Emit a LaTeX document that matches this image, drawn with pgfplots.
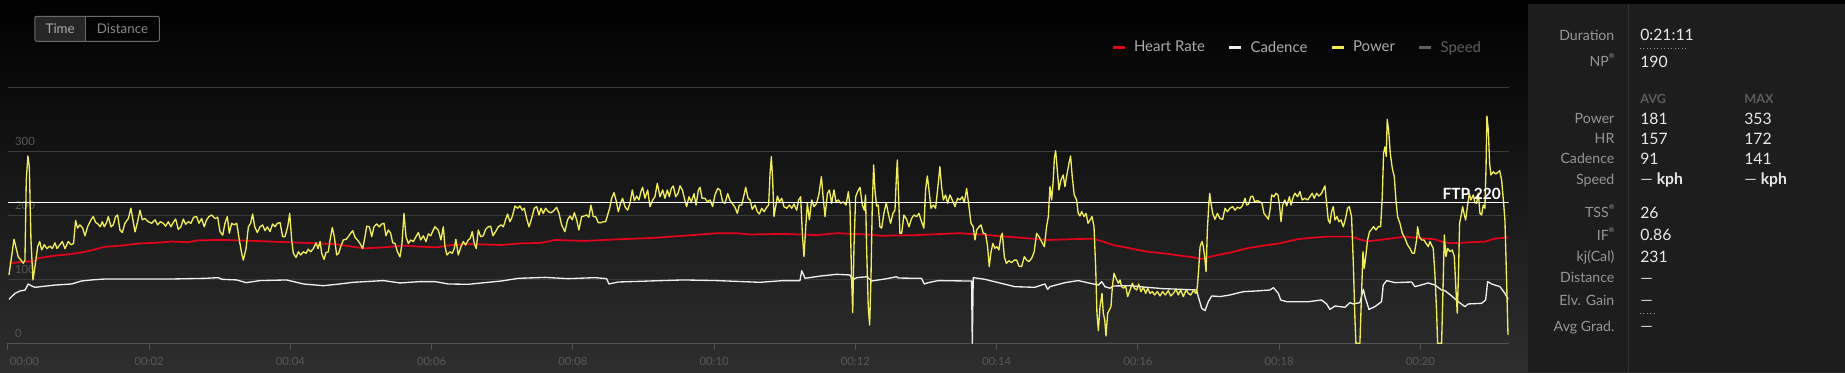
\documentclass[border=0pt]{standalone}
\usepackage{fontspec}
\setmainfont{Lato}
\usepackage{pgfplots}
\pgfplotsset{compat=1.18}
\definecolor{hr}{RGB}{227,0,27}
\definecolor{pw}{RGB}{240,236,90}
\definecolor{cad}{RGB}{238,238,238}
\definecolor{spd}{RGB}{95,95,95}
\definecolor{gridc}{RGB}{58,58,58}
\definecolor{axisc}{RGB}{82,82,82}
\definecolor{ticklab}{RGB}{88,88,88}
\definecolor{panel}{RGB}{29,29,29}
\definecolor{panelline}{RGB}{50,50,50}
\definecolor{lab}{RGB}{150,150,150}
\definecolor{val}{RGB}{232,232,232}
\definecolor{hdr}{RGB}{92,92,92}
\definecolor{legtext}{RGB}{172,172,172}
\definecolor{bgbot}{RGB}{46,46,46}
\definecolor{btnfill}{RGB}{38,38,38}
\definecolor{btnline}{RGB}{105,105,105}
\definecolor{btntxta}{RGB}{170,170,170}
\definecolor{btntxtb}{RGB}{135,135,135}
\newcommand{\fs}[1]{\fontsize{#1}{#1}\selectfont}
\newcommand{\reg}{\raisebox{0.55em}{\fs{5pt}®}}
\begin{document}
\begin{tikzpicture}
\begin{scope}[x=0.75pt,y=-0.75pt]
\useasboundingbox (0,0) rectangle (1845,372);
\shade[top color=black, bottom color=bgbot] (0,0) rectangle (1845,372);
\fill[panel] (1528,4) rectangle (1845,372);
\draw[panelline, line width=0.75pt] (1628.6,4) -- (1628.6,372);
% buttons
\fill[btnfill] (35,16.5) rectangle (85.4,41);
\draw[rounded corners=1.5pt, draw=btnline, line width=0.75pt] (34.8,16.3) rectangle (159.4,41.3);
\draw[draw=btnline, line width=0.75pt] (85.4,16.3) -- (85.4,41.3);
\node[anchor=base, text=btntxta, font=\fs{10pt}, inner sep=0pt] at (60.2,33.8) {Time};
\node[anchor=base, text=btntxtb, font=\fs{10pt}, inner sep=0pt] at (122.5,33.8) {Distance};
% panel labels
\begin{scope}[every node/.style={anchor=base east, inner sep=0pt, text=lab, font=\fs{10.6pt}}]
\node at (1614.6,40) {Duration};
\node at (1614.6,66.7) {NP\reg};
\node at (1614.6,123.3) {Power};
\node at (1614.6,143.3) {HR};
\node at (1614.6,163.3) {Cadence};
\node at (1614.6,184) {Speed};
\node at (1614.6,217.3) {TSS\reg};
\node at (1614.6,240) {IF\reg};
\node at (1614.6,261.7) {kj(Cal)};
\node at (1614.6,282.7) {Distance};
\node at (1614.6,305) {Elv. Gain};
\node at (1614.6,331) {Avg Grad.};
\end{scope}
\begin{scope}[every node/.style={anchor=base west, inner sep=0pt, text=val, font=\fs{11.8pt}}]
\node at (1640,40.8) {0:21:11};
\node at (1640,67.5) {190};
\node[text=hdr, font=\fs{9.5pt}\bfseries] at (1640,103.3) {AVG};
\node[text=hdr, font=\fs{9.5pt}\bfseries] at (1744,103.3) {MAX};
\node at (1640,124.1) {181};
\node at (1744,124.1) {353};
\node at (1640,144.1) {157};
\node at (1744,144.1) {172};
\node at (1640,164.1) {91};
\node at (1744,164.1) {141};
\node at (1640,184.8) {--- \textbf{kph}};
\node at (1744,184.8) {--- \textbf{kph}};
\node at (1640,218.1) {26};
\node at (1640,240.8) {0.86};
\node at (1640,262.5) {231};
\node at (1640,283.5) {---};
\node at (1640,305.8) {---};
\node at (1640,331.8) {---};
\end{scope}
\draw[lab, dotted, line width=0.6pt] (1640,48.3) -- (1687,48.3);
\draw[lab, dotted, line width=0.6pt] (1640,313) -- (1656,313);
\end{scope}
\begin{axis}[
  at={(5.925pt,-257.475pt)}, anchor=south west,
  scale only axis, width=1125.5pt, height=192pt,
  xmin=0, xmax=1274.9, ymin=0, ymax=400,
  axis x line*=bottom, axis y line*=left,
  x axis line style={draw=axisc, line width=1.1pt, -},
  y axis line style={draw=none},
  xtick={0,120,240,360,480,600,720,840,960,1080,1200},
  xticklabels={{\makebox[0pt][l]{\hspace{1.5pt}00:00}},00:02,00:04,00:06,00:08,00:10,00:12,00:14,00:16,00:18,00:20},
  xtick style={draw=axisc, line width=0.75pt, yshift=-5.25pt},
  major tick length=5.25pt,
  ytick={0,100,200,300,400},
  yticklabels={0,100,200,300,{}},
  ytick style={draw=none},
  ymajorgrids, grid style={draw=gridc, line width=1.1pt},
  /pgf/number format/assume math mode=true,
  xticklabel style={anchor=north, inner sep=0pt, yshift=-10.6pt, text=ticklab, font=\fs{8.5pt}},
  yticklabel style={anchor=base west, inner sep=0pt, xshift=5.25pt, yshift=4.5pt, text=ticklab, font=\fs{8.5pt}},
  legend columns=4,
  legend style={at={(1,1)}, anchor=east, xshift=-18.45pt, yshift=29.8pt, draw=none, fill=none, text=legtext, font=\fs{11.2pt}, inner sep=0pt,
    /tikz/every even column/.append style={column sep=15pt},
    /tikz/every odd column/.append style={column sep=4pt}},
  legend image code/.code={\draw[line width=2.25pt] (0pt,0pt) -- (9pt,0pt);},
  line join=round,
]
\addlegendimage{hr}\addlegendentry{Heart Rate}
\addlegendimage{cad}\addlegendentry{Cadence}
\addlegendimage{pw}\addlegendentry{Power}
\addlegendimage{spd}\addlegendentry{\textcolor{spd}{Speed}}
% Cadence
\addplot[cad, line width=1pt, forget plot] coordinates {
(0.9,68.8) (6,78) (10.2,81.8) (14.5,83) (17.3,92.7) (20.2,89.6) (23,87.5) (40,91) (54.1,92.7) (62.6,97.4) (71.1,99) (82.5,100.5) (110.8,100.5) (139.1,100.5) (167.4,101.5) (178.7,102.6) (181.9,100)
(194.4,99) (202.3,94.8) (214.2,98) (236.8,99) (251,92.7) (268,90) (279.3,92.2) (293.5,95.3) (319,98) (333.1,94.3) (350.1,96.4)
(362.8,96.4) (374.1,92.7) (391.1,92.2) (419.4,97.4) (433.6,101.5) (456.3,103) (476.1,101) (498.7,102.6) (508.6,101) (510.6,92.7) (518.6,95.8) (538.4,96.9)
(545.5,97.4) (573.8,99) (602.1,98) (639,95.3) (658.8,98) (672.9,98) (674.4,113.5) (677.2,101.6) (689.9,105) (704.1,107.8) (715.4,106.8) (717.4,99) (721.1,102.6) (729.9,104)
(733.8,97.4) (745.1,100.5) (755,104) (756.4,102) (776.2,101.5) (778.5,92.7) (781.9,94.8) (790.4,98) (813.1,97.4) (818.7,97.4) (819.3,0) (820.1,102.6) (830,100) (841.4,94.8) (855.5,88.5) (872.5,87.5) (881,92.7) (883.3,84.4) (885.3,88.5) (898,94.8) (909.3,98)
(922.1,92.7) (926.4,91) (929.2,96.4) (932,88.5) (936.3,86) (939.1,89.6) (953.3,90) (967.4,87.5) (981.6,85.4) (995.8,84.4) (1009.9,83.3) (1011.3,73) (1014.2,54.7) (1017,51) (1019.8,65) (1022.7,74) (1029.7,73) (1038.2,75.5) (1049.6,80.7) (1060.9,81.8) (1072.2,83.3) (1075.1,87) (1079.3,78) (1081.3,67.7) (1086.4,65) (1095.2,65)
(1104.7,65) (1116,67.7) (1120.3,61.5) (1123.1,53) (1127.4,58.3) (1135.9,56.3) (1140.1,63.5) (1143,61.5) (1148.6,63.5) (1151.5,84.4) (1152.9,73) (1156.3,53) (1161.4,57.3) (1167,65) (1168.4,91) (1171.3,98) (1178.4,94.8) (1192.5,95.8) (1195.4,88.5) (1206.7,94.3) (1212.3,91) (1218,83.3) (1220.8,82.3) (1226.5,74) (1232.2,65) (1237.8,57.3) (1240.7,61.5) (1252,62.5) (1255.4,67.7) (1257.1,96.4) (1260.5,92.7) (1267.6,88.5) (1271.8,78) (1274.6,68.8)
};
% Heart rate
\addplot[hr, line width=1.3pt, forget plot] coordinates {
(0.9,125) (11.7,127) (23,128.6) (25.8,133) (40,137) (54.1,139.6) (68.3,144) (82.5,151) (96.6,152.6) (110.8,156) (125,157) (139.1,159) (153.3,158) (161.8,161) (181.9,161.5)
(208.5,160) (236.8,158) (265.2,156) (279.3,154.7) (302,148.4) (316.1,149.5) (335.9,152.6) (350.1,151) (364.6,150)
(377,153.6) (391.1,155) (419.4,153.6) (433.6,156) (453.4,157) (464.8,161.5) (490.2,160) (518.6,162.5) (547.2,164.6)
(573.8,168) (602.1,172) (619.1,172) (630.5,170) (658.8,171) (687.1,169) (704.1,172) (729.9,170)
(742.3,168) (770.6,169) (807.4,172) (827.2,170) (841.4,167.7) (855.5,165.6) (883.9,161.5) (910.8,163)
(922.1,163.5) (927.8,160.4) (939.1,153.6) (953.3,148.4) (967.4,143.2) (981.6,140.6) (995.8,137) (1007.1,134.4) (1014.2,131.8) (1024.1,136.5) (1038.2,141.7) (1052.4,148.4) (1066.6,152.6) (1080.7,156.3) (1095.2,162.5)
(1107.6,165) (1121.7,166.7) (1141.5,166.7) (1150,161.5) (1155.7,159.4) (1169.9,162.5) (1186.9,166.7) (1201,164) (1212.3,162.5) (1218,158.9) (1226.5,156.3) (1240.7,157.8) (1254.8,158.9) (1263.3,163.5) (1274.6,165.6)
};
% Power
\addplot[pw, line width=1pt, forget plot] coordinates {
(0.9,106.8) (5.2,162.5) (8.8,135) (11.1,130) (13.1,125) (14.5,130) (15.6,255) (17.0,292.7) (18.2,276) (19.6,161) (21.3,99) (23,120) (25.3,151) (27,159) (28.7,146) (30.9,154) (33.2,148) (35.7,152) (37.7,148) (40,157) (41.7,148) (44.2,154) (46.2,159) (48.5,148) (51.3,159) (53.6,154) (55.8,156) (57.5,192) (59.2,180) (61.2,185) (63.5,180) (65.5,168) (67.7,182) (70.6,193) (72.5,198) (74.5,189) (76.8,186) (78.5,182) (80.2,190) (81.9,182) (83.9,189) (85.3,198) (87.6,182) (89.5,185) (91.5,198) (93.2,200.5) (95.2,177) (97.2,173) (99.4,187.5) (102.3,195) (104.5,211) (106.2,193) (108,174) (110.2,190) (112.2,208) (114.2,193) (116.4,195) (119.3,190) (122.1,187.5) (125,193) (127.2,185) (129.5,190) (132,187.5) (134,183) (136.3,190) (138.5,182) (140.5,189) (142.5,194) (144.8,178) (147,182) (149,194) (151,186) (153.3,190) (155.5,187.5) (157.8,197) (160.3,198) (162.3,187.5) (164.6,195) (166.8,182) (168.8,193) (170.8,198) (173.1,200.5) (175.9,195) (178.2,197)
(180.2,174.5) (182.5,169) (184.4,187.5) (186.4,198) (188.1,172) (190.1,187.5) (192.1,185) (194.4,187.5) (196.6,161.5) (198.6,140.6) (200,130) (202.3,148) (204.3,182) (206.2,187.5) (207.9,202) (209.7,182) (211.9,173) (214.2,182) (216.4,185) (218.4,176) (220.4,182) (222.7,174.5) (224.9,186.5) (226.9,182) (228.9,187.5) (231.2,188.5) (233.4,166.7) (235.4,166.7) (237.7,182) (239.4,203) (241.1,161.5) (242.5,140.6) (244.8,134) (246.8,143) (248.7,138) (251,143) (253.3,140.6) (255.2,147) (257.2,143) (259.5,148) (261.8,157) (263.5,148) (265.2,159) (266.6,140.6) (268.6,131) (270.2,141.7) (272.2,143) (273.7,161.5) (275.6,181) (277.3,166.7) (279.3,138) (281,140.6) (282.7,151) (285,161.5) (287.3,162.5) (289.2,166.7) (291.2,172) (292.9,176) (294.9,165.6) (296.9,161.5) (299.1,156) (301.4,148) (303.4,166.7) (304.8,183) (307.1,182) (309.1,166.7) (311,182) (313.3,186.5) (315.6,182) (317.6,186.5) (319.5,187.5) (321.2,168) (323.2,177) (325.2,172) (326.9,157) (328.9,156) (330.9,143) (333.1,135) (334.8,156) (336.5,203) (338.2,166.7) (340.2,156) (342.2,161.5) (344.4,159) (346.7,166.7) (348.7,173) (350.7,161.5) (352.9,168) (355.2,159) (357.2,171) (359.2,168) (361.4,177)
(362.8,182) (365.6,177) (367.9,161.5) (369.9,182) (371.3,151) (373,138) (375.5,143) (377.5,140.6) (379.2,148) (380.6,162.5) (382.6,138) (384.9,151) (386.9,159) (388.8,153.6) (391.1,161.5) (392.8,164) (394.5,174.5) (396.2,156) (397.9,148) (399.6,177) (401.6,166.7) (403.9,168) (405.8,178) (408.1,182) (410.1,183) (412.1,168) (414.3,174.5) (416.6,182) (418.9,185) (420.9,182) (422.8,193) (424.5,202) (426.5,190) (428.5,198) (430.8,214.6) (433,211) (435,214.6) (437,208) (438.7,211) (440.7,195) (442.7,182) (444.9,195) (447.2,211) (449.2,213.5) (451.2,200.5) (452.9,211) (454.8,203) (456.8,211) (459.1,205.7) (461.4,204) (463.6,207) (466.2,212.5) (468.2,203) (470.4,185) (473.2,174.5) (475.5,193) (477.5,199) (479.5,193) (481.2,204) (483.2,193) (485.1,177) (487.4,198) (489.7,199) (491.7,200.5) (493.6,197) (495.3,216) (497.3,198) (499.3,198) (501.6,188.5) (503.8,188.5) (505.8,190) (507.8,190) (509.5,200.5) (511.2,211) (512.9,226.6) (514.9,235.4) (516.6,224) (518.6,205.7) (520.5,218.8) (522.2,226.6) (524.2,213.5) (526.5,208) (528.5,218.8) (530.5,239.6) (532.2,223) (534.1,230) (536.1,224) (537.8,237) (539.2,243.8) (541.2,226.6) (543.5,239.6)
(545.5,213.5) (547.8,224) (549.7,229) (551.7,250) (554,229) (556.3,239.6) (558.2,226.6) (560.2,239.6) (561.9,229) (563.6,242) (565.3,246) (567.3,229) (569.3,234) (571,246) (573,239.6) (574.7,226.6) (576.6,213.5) (578.6,229) (580.6,221) (582.9,234) (584.6,216) (586.6,239.6) (588,243.8) (589.7,226.6) (592.2,226.6) (594.2,221) (596.5,224) (598.7,213.5) (600.7,232) (603,242) (605,239.6) (607.2,221) (609.2,218.8) (611.5,234) (613.5,223) (615.7,217.7) (617.7,212.5) (619.7,203) (621.4,216) (623.4,216) (625.4,232) (626.8,243.8) (628.8,226.6) (630.5,224) (632.4,209.4) (634.7,216) (636.7,205.7) (638.4,202) (640.4,211) (642.4,205.7) (644.6,212.5) (646.3,216) (647.5,265.6) (648.6,291.7) (649.7,255) (650.8,198) (652.5,216) (653.7,230) (655.4,221) (657.4,226.6) (659.3,213.5) (661.6,211) (663.9,216) (665.9,211) (667.8,217.7) (670.1,208) (671.8,224) (673.5,229) (674.9,172) (676.3,135.4) (678,187.5) (679.2,218.8) (680.9,193) (682.9,224) (684.8,213.5) (687.1,218.8) (689.1,234) (691.1,260.4) (692.8,224) (694.2,198) (696.2,234) (697.9,239.6) (699.8,218.8) (701.8,239.6) (703.5,221) (705.5,224) (707.5,218.8) (709.8,221) (712,216) (714,237) (715.4,213.5) (716.8,99) (717.7,48) (718.8,151) (720.2,229) (721.9,237) (723.9,243.8) (725.9,216) (727.6,208)
(728.6,231.8) (729.5,151) (730.9,57) (732.1,28.6) (733.2,99) (734.3,213.5) (735.5,278.6) (736.6,239.6) (738,214.6) (739.4,216) (740.8,182) (742.3,180) (744.2,203) (746.2,219.8) (747.9,203) (749.9,187.5) (751.9,203) (753.6,208) (754.7,255) (755.6,286.5) (756.4,244.8) (757.8,172) (759.3,172) (761.2,200.5) (763.5,193.8) (765.5,182) (767.7,195) (769.7,200.5) (772,198) (774,203) (776.2,190) (778.2,180) (779.6,239.6) (781.1,261.5) (782.5,239.6) (784.2,211) (786.2,216) (788.1,211) (789.8,239.6) (791.8,276) (793.2,244.8) (794.7,224) (796.6,231.8) (798.3,218.8) (800.3,231.8) (802.3,224) (804.6,213.5) (806.8,226.6) (808.8,224) (810.8,229) (812.5,219.8) (814.5,242) (816.5,213.5) (818.2,187.5) (820.1,182) (821.6,161.5) (823,177) (825,182) (826.7,185) (828.6,172) (830.6,171) (832.3,151) (833.7,119.8) (835.1,141.7) (836.8,156) (838.5,148.4) (840.2,151) (841.9,146) (843.6,166.7) (844.8,172) (846.5,135.4) (848.2,125) (850.4,129) (852.7,126) (854.9,130) (857,130) (858.9,120.8) (861.2,119.8) (863.5,135.4) (865.5,130) (867.4,127.6) (869.7,132.8) (871.9,143) (873.9,172) (875.9,166.7) (878.2,159) (880.5,151) (882.4,182) (883.9,198) (885.3,244.8) (886.7,224) (888.1,255) (889,289) (890.1,301) (891.5,270.8) (892.9,239.6) (894.6,255) (896.6,263) (898,244.8) (899.4,260.4) (901.4,281) (902.8,292.7) (904.2,260.4) (905.9,231.8) (907.9,224) (909.3,203) (910.8,199)
(912.2,205.7) (914.2,198) (915.9,203) (917.6,187.5) (919.3,192.7) (921,198) (922.7,182) (924.1,119.8) (925.2,47) (926.4,20) (927.8,57) (929.5,78) (930.6,47) (931.8,36.5) (932.9,11.5) (934.3,47) (935.7,52) (937.1,57) (938.3,88.5) (939.7,109.4) (941.4,101.6) (943.4,93.8) (944.8,99) (946.2,88.5) (947.6,86) (949.6,89.6) (951.3,73) (953.3,83.3) (955.3,93.8) (957,86) (959,83.3) (960.6,92.7) (962.6,80.7) (964.6,87.5) (966.6,78) (968.3,86) (970.3,78) (972.3,80.7) (974.2,75.5) (976.5,80.7) (978.8,74) (981,80.7) (983.3,75.5) (985.8,82.3) (987.8,74) (990.1,78) (992.4,84.4) (994.3,75.5) (996.3,83.3) (998.6,73) (1000.9,83.3) (1002.8,78) (1004.8,75.5) (1007.1,82.3) (1009.4,78) (1010.5,88.5) (1011.6,114.6) (1012.8,151) (1014.5,159) (1015.6,151) (1016.7,135.4) (1017.9,112) (1019,177) (1020.1,213.5) (1021,234.4) (1022.1,218.8) (1023.5,203) (1025.5,193.8) (1027.5,203) (1029.7,195) (1032,193.8) (1034,211) (1036,205.7) (1038.2,211) (1040.5,213.5) (1042.5,208) (1044.5,212.5) (1046.7,211) (1048.7,214.6) (1051,226.6) (1052.4,216) (1054.1,217.7) (1055.8,229) (1057.5,230) (1059.2,221) (1061.5,223) (1063.7,221) (1065.4,218.8) (1067.1,203) (1068.8,199) (1070.8,193.8) (1072.2,208) (1073.6,231.8) (1075.6,229) (1077.3,234.4) (1079,231.8) (1080.2,217.7) (1081.6,190) (1083,216) (1084.7,224) (1086.4,214.6) (1088.7,229) (1090.1,216) (1092,229)
(1093.4,234.4) (1095.7,229) (1097.6,237) (1099.6,224) (1101.9,226.6) (1104.2,224) (1106.1,229) (1108.1,234.4) (1109.8,226.6) (1111.8,234.4) (1113.8,230) (1116,234.4) (1118.9,246) (1120.3,218.8) (1121.7,192.7) (1123.1,187.5) (1124.5,205.7) (1126,213.5) (1127.4,192.7) (1129.1,198) (1130.8,190) (1132.5,192.7) (1134.5,182) (1136.4,195) (1138.1,211) (1139.6,213.5) (1141.5,198) (1143,125) (1144.4,36.5) (1145.2,0) (1148.6,0) (1150,78) (1151.2,143.2) (1152.3,117) (1153.7,138) (1155.1,161.5) (1156.8,174.5) (1158.5,178) (1160.2,182.3) (1162.2,177) (1164.2,182.3) (1166.2,182.3) (1167.6,229) (1168.7,297) (1169.9,307) (1171,291.7) (1171.8,350) (1173,333) (1174.4,297) (1176.1,273.4) (1177.8,260.4) (1179.2,224) (1180.6,198) (1182.6,187.5) (1184.6,172) (1186.9,164) (1189.1,153.6) (1191.1,148.4) (1193.1,140.6) (1194.8,140.6) (1196.8,161.5) (1197.6,182.3) (1199,166.7) (1201,161.5) (1203,161.5) (1204.7,156.3) (1206.7,151) (1208.1,159) (1209.5,153.6) (1210.9,148.4) (1212.3,109.4) (1213.8,47) (1214.6,0) (1218,0) (1219.4,99) (1220.3,169.3) (1221.7,135.4) (1223.1,148.4) (1225.1,143.2) (1227.1,145.8) (1228.8,135.4) (1229.9,93.8) (1231.3,47) (1232.2,99) (1233.3,187.5) (1234.4,198) (1235.9,213.5) (1237,203) (1238.4,192.7) (1240.1,216) (1241.5,234.4) (1242.9,224) (1244.9,231.8) (1246.3,219.8) (1247.7,218.8) (1249.2,234.4) (1250.6,203) (1252,200.5) (1253.4,216) (1254.8,211) (1255.7,270.8) (1256.5,355) (1257.7,333) (1258.8,281) (1259.9,263) (1261.9,268) (1263.9,264.6) (1265.6,266.7) (1267.3,269.8) (1269,255) (1270.7,218.8) (1271.8,192.7) (1273.2,99) (1274.4,13)
};
% FTP line
\addplot[white, line width=1.1pt, forget plot] coordinates {(0,220) (1274.9,220)}
  node[pos=1, anchor=base east, xshift=-5.25pt, yshift=2.6pt, inner sep=0pt, text=white, font=\fs{11.6pt}\bfseries] {FTP 220};
\end{axis}
\end{tikzpicture}
\end{document}
